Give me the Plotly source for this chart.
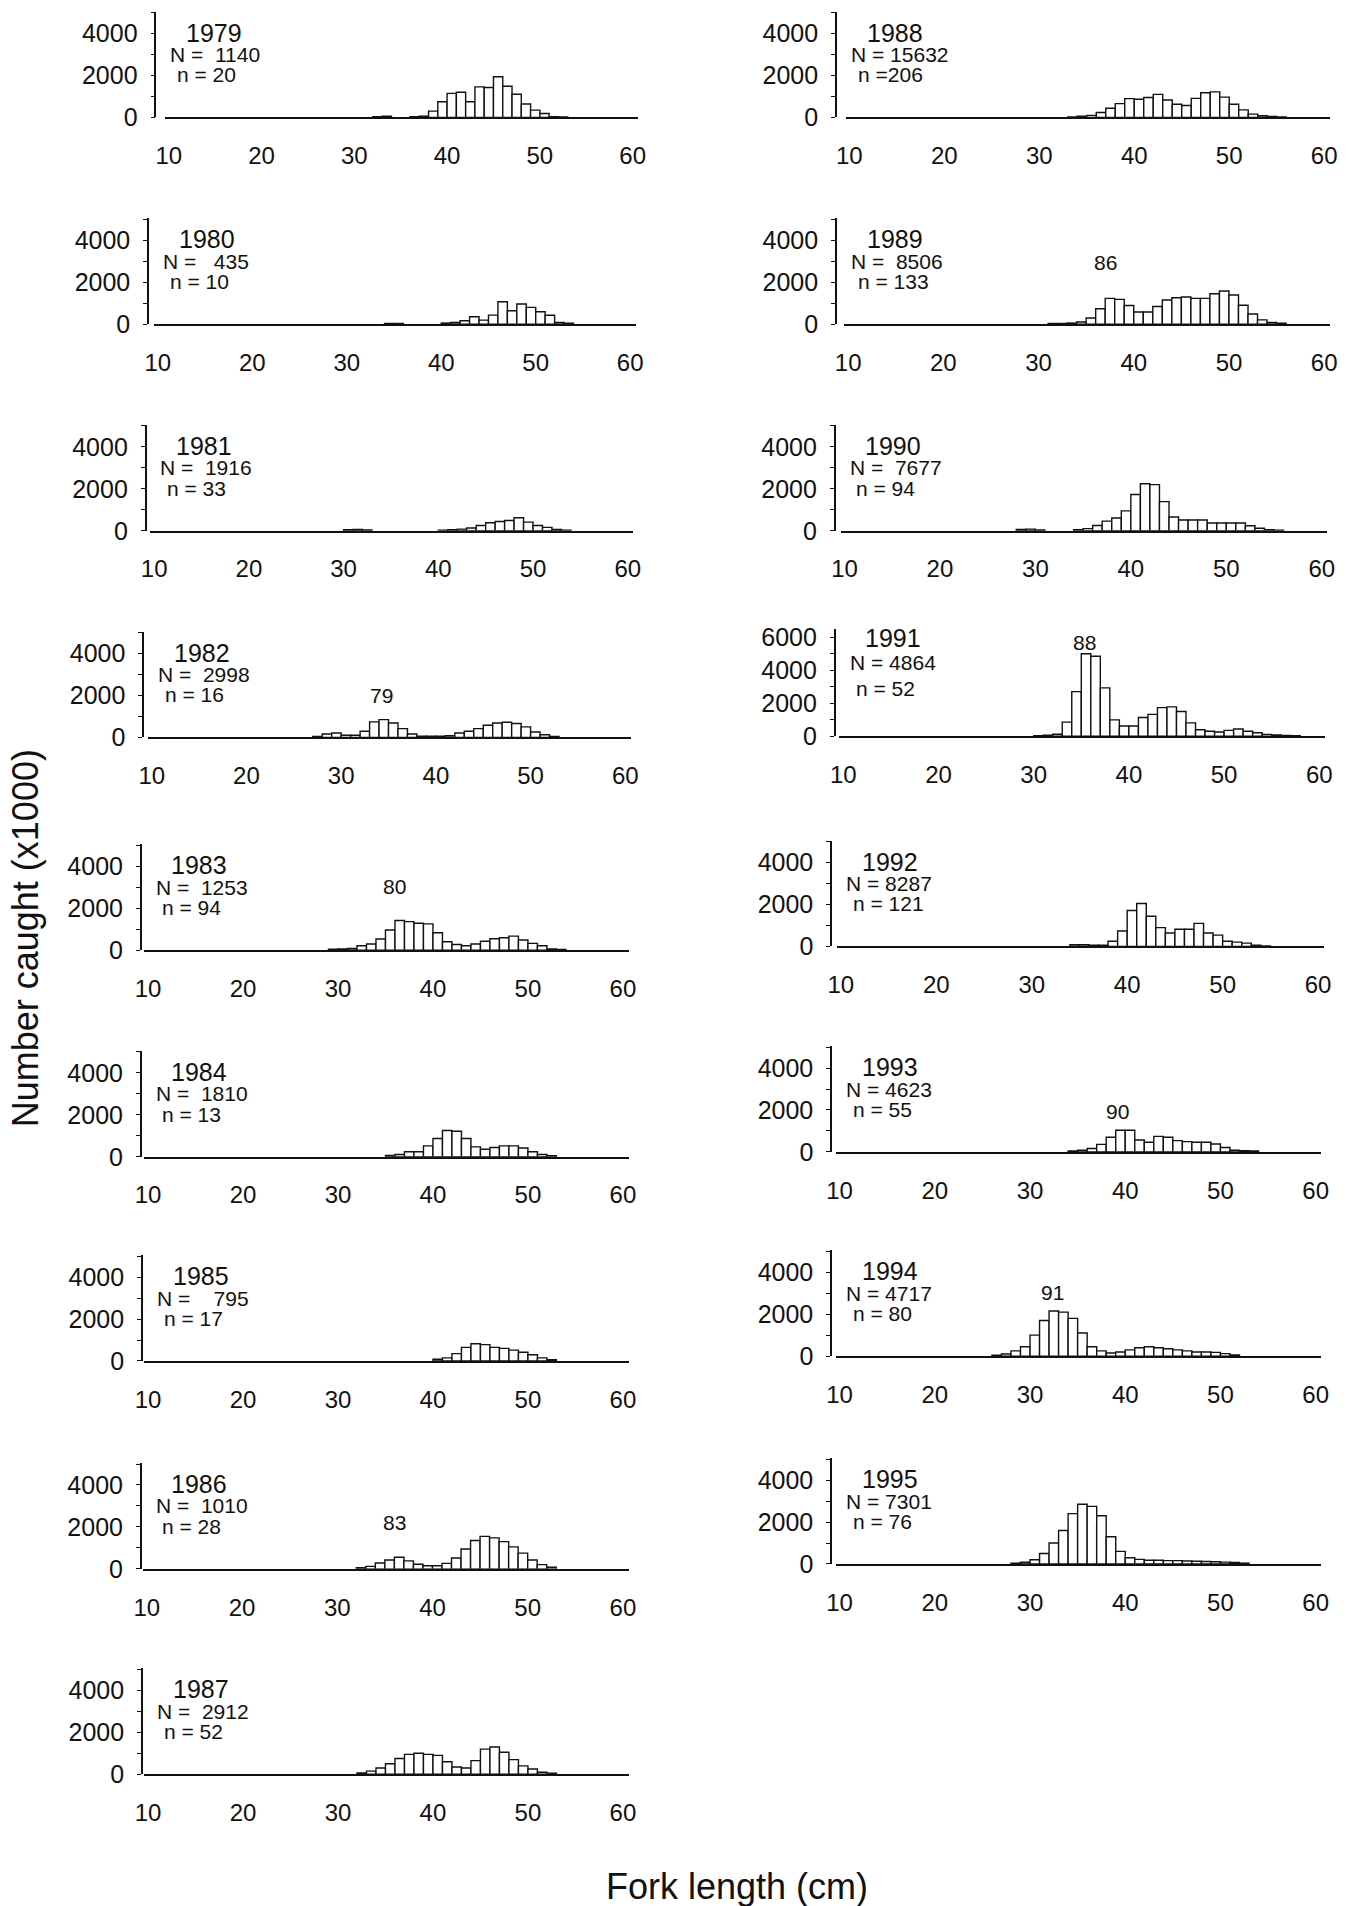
import plotly.graph_objects as go

# ---------------- data: fork-length bins (cm, lower edge) and number caught (x1000) ----------------
bins_1979 = [32, 33, 36, 37, 38, 39, 40, 41, 42, 43, 44, 45, 46, 47, 48, 49, 50, 51, 52]
catch_1979 = [40, 60, 40, 60, 300, 750, 1150, 1200, 750, 1460, 1430, 1940, 1490, 1110, 640, 350, 190, 40, 20]

bins_1980 = [34, 35, 40, 41, 42, 43, 44, 45, 46, 47, 48, 49, 50, 51, 52, 53]
catch_1980 = [30, 30, 50, 80, 160, 350, 190, 430, 1070, 640, 960, 800, 590, 420, 80, 40]

bins_1981 = [30, 31, 32, 40, 41, 42, 43, 44, 45, 46, 47, 48, 49, 50, 51, 52, 53]
catch_1981 = [50, 60, 40, 30, 50, 80, 130, 250, 380, 440, 490, 620, 410, 250, 160, 60, 30]

bins_1982 = [27, 28, 29, 30, 31, 32, 33, 34, 35, 36, 37, 38, 39, 40, 41, 42, 43, 44, 45, 46, 47, 48, 49, 50, 51, 52]
catch_1982 = [50, 160, 210, 100, 100, 290, 740, 850, 690, 420, 160, 60, 60, 60, 80, 210, 290, 420, 580, 690, 720, 660, 500, 260, 130, 50]

bins_1983 = [29, 30, 31, 32, 33, 34, 35, 36, 37, 38, 39, 40, 41, 42, 43, 44, 45, 46, 47, 48, 49, 50, 51, 52, 53]
catch_1983 = [40, 60, 80, 210, 290, 530, 960, 1410, 1360, 1280, 1250, 830, 400, 270, 210, 290, 420, 540, 590, 670, 480, 320, 210, 60, 30]

bins_1984 = [35, 36, 37, 38, 39, 40, 41, 42, 43, 44, 45, 46, 47, 48, 49, 50, 51, 52]
catch_1984 = [60, 110, 240, 240, 520, 870, 1250, 1220, 870, 470, 360, 440, 520, 520, 420, 240, 110, 50]

bins_1985 = [40, 41, 42, 43, 44, 45, 46, 47, 48, 49, 50, 51, 52]
catch_1985 = [80, 150, 350, 650, 820, 780, 650, 600, 520, 420, 300, 150, 60]

bins_1986 = [32, 33, 34, 35, 36, 37, 38, 39, 40, 41, 42, 43, 44, 45, 46, 47, 48, 49, 50, 51, 52]
catch_1986 = [50, 120, 280, 420, 550, 380, 220, 150, 150, 260, 520, 950, 1350, 1550, 1480, 1300, 1050, 750, 420, 200, 80]

bins_1987 = [32, 33, 34, 35, 36, 37, 38, 39, 40, 41, 42, 43, 44, 45, 46, 47, 48, 49, 50, 51, 52]
catch_1987 = [60, 150, 300, 500, 750, 950, 1000, 950, 900, 600, 350, 300, 650, 1200, 1300, 1050, 700, 400, 250, 100, 50]

bins_1988 = [33, 34, 35, 36, 37, 38, 39, 40, 41, 42, 43, 44, 45, 46, 47, 48, 49, 50, 51, 52, 53, 54, 55]
catch_1988 = [30, 60, 100, 240, 440, 660, 900, 870, 950, 1100, 830, 630, 570, 910, 1180, 1220, 970, 630, 360, 160, 80, 50, 30]

bins_1989 = [31, 32, 33, 34, 35, 36, 37, 38, 39, 40, 41, 42, 43, 44, 45, 46, 47, 48, 49, 50, 51, 52, 53, 54, 55]
catch_1989 = [30, 30, 50, 100, 290, 730, 1230, 1180, 890, 580, 580, 840, 1150, 1260, 1290, 1230, 1230, 1450, 1580, 1390, 900, 480, 200, 80, 40]

bins_1990 = [28, 29, 30, 34, 35, 36, 37, 38, 39, 40, 41, 42, 43, 44, 45, 46, 47, 48, 49, 50, 51, 52, 53, 54, 55]
catch_1990 = [60, 80, 40, 50, 100, 250, 460, 610, 950, 1730, 2240, 2200, 1390, 660, 510, 510, 510, 370, 370, 370, 370, 240, 120, 50, 30]

bins_1991 = [30, 31, 32, 33, 34, 35, 36, 37, 38, 39, 40, 41, 42, 43, 44, 45, 46, 47, 48, 49, 50, 51, 52, 53, 54, 55, 56, 57]
catch_1991 = [30, 60, 120, 850, 2700, 5000, 4850, 2930, 990, 620, 620, 1130, 1320, 1730, 1780, 1500, 810, 390, 300, 250, 350, 440, 300, 210, 110, 80, 50, 30]

bins_1992 = [34, 35, 36, 37, 38, 39, 40, 41, 42, 43, 44, 45, 46, 47, 48, 49, 50, 51, 52, 53, 54]
catch_1992 = [80, 80, 60, 60, 250, 740, 1720, 2050, 1440, 900, 640, 820, 820, 1100, 640, 540, 250, 210, 160, 60, 30]

bins_1993 = [34, 35, 36, 37, 38, 39, 40, 41, 42, 43, 44, 45, 46, 47, 48, 49, 50, 51, 52, 53]
catch_1993 = [40, 80, 160, 360, 700, 1030, 1030, 570, 460, 740, 700, 540, 490, 460, 460, 380, 210, 80, 60, 40]

bins_1994 = [26, 27, 28, 29, 30, 31, 32, 33, 34, 35, 36, 37, 38, 39, 40, 41, 42, 43, 44, 45, 46, 47, 48, 49, 50, 51]
catch_1994 = [40, 100, 250, 450, 1000, 1700, 2150, 2100, 1800, 1100, 450, 250, 150, 200, 300, 400, 450, 400, 350, 300, 250, 200, 200, 180, 120, 60]

bins_1995 = [28, 29, 30, 31, 32, 33, 34, 35, 36, 37, 38, 39, 40, 41, 42, 43, 44, 45, 46, 47, 48, 49, 50, 51, 52]
catch_1995 = [40, 80, 200, 500, 1000, 1600, 2400, 2850, 2750, 2300, 1300, 600, 300, 220, 180, 180, 160, 160, 140, 130, 120, 110, 90, 70, 40]

years = ["1979", "1980", "1981", "1982", "1983", "1984", "1985", "1986", "1987",
         "1988", "1989", "1990", "1991", "1992", "1993", "1994", "1995"]
N_labels = ["N =\u00a0 1140", "N =\u00a0\u00a0 435", "N =\u00a0 1916", "N =\u00a0 2998", "N =\u00a0 1253",
            "N =\u00a0 1810", "N =\u00a0\u00a0\u00a0 795", "N =\u00a0 1010", "N =\u00a0 2912",
            "N = 15632", "N =\u00a0 8506", "N =\u00a0 7677", "N = 4864", "N = 8287", "N = 4623",
            "N = 4717", "N = 7301"]
n_labels = ["n = 20", "n = 10", "n = 33", "n = 16", "n = 94", "n = 13", "n = 17", "n = 28", "n = 52",
            "n =206", "n = 133", "n = 94", "n = 52", "n = 121", "n = 55", "n = 80", "n = 76"]

cohort_years = ["1982", "1983", "1986", "1989", "1991", "1993", "1994"]
cohort_labels = ["79", "80", "83", "86", "88", "90", "91"]
cohort_x = [34.3, 36.0, 36.0, 37.0, 35.3, 39.2, 32.4]
cohort_y = [2000, 3050, 2200, 2950, 5700, 1950, 3050]

x_ticks = [10, 20, 30, 40, 50, 60]

data_bins = [bins_1979, bins_1980, bins_1981, bins_1982, bins_1983, bins_1984, bins_1985, bins_1986, bins_1987,
             bins_1988, bins_1989, bins_1990, bins_1991, bins_1992, bins_1993, bins_1994, bins_1995]
data_catch = [catch_1979, catch_1980, catch_1981, catch_1982, catch_1983, catch_1984, catch_1985, catch_1986,
              catch_1987, catch_1988, catch_1989, catch_1990, catch_1991, catch_1992, catch_1993, catch_1994,
              catch_1995]

# ---------------- layout geometry ----------------
W, H = 1352, 1906
S = 1.2158
FONT = "Liberation Sans, Arial, Helvetica, sans-serif"
INK = "#111111"


def rx(p):
    # horizontal position read on the reduced reference -> page pixel
    return (p - 8.6) / 0.9853 * S


def ry(p):
    # vertical position read on the reduced reference -> page pixel
    return (p - 5.3) / 0.9897 * S


# per-panel positions read on the reference: y-axis line, tick "10", tick "60", baseline
axis_r = [128, 122, 120, 118, 116, 116, 117, 116, 117, 687, 687, 686, 686, 683, 683, 683, 683]
x10_r = [139, 130, 127, 125, 122, 122, 122, 121, 122, 698, 697, 694, 693, 691, 690, 690, 690]
x60_r = [520, 518, 516, 514, 512, 512, 512, 512, 512, 1088, 1088, 1086, 1084, 1083, 1081, 1081, 1081]
base_r = [97, 267, 437, 607, 782, 952, 1120, 1291, 1460, 97, 267, 437, 606, 779, 948, 1116, 1287]
X0, X1 = 9.6, 60.6
PX_PER_4000 = 69.7 * S
PX_PER_6000_BIG = 100.0

fig = go.Figure()
layout = dict(
    width=W, height=H, margin=dict(l=0, r=0, t=0, b=0),
    paper_bgcolor="white", plot_bgcolor="white", showlegend=False,
    font=dict(family=FONT, color=INK),
)
annotations = []

for i, yr in enumerate(years):
    k = i + 1
    xs = "x" if k == 1 else f"x{k}"
    ys = "y" if k == 1 else f"y{k}"
    x10 = rx(x10_r[i])
    x60 = rx(x60_r[i])
    axis_px = rx(axis_r[i])
    scale = (x60 - x10) / 50.0
    dx0 = (x10 + (X0 - 10) * scale) / W
    dx1 = (x10 + (X1 - 10) * scale) / W
    big = (yr == "1991")
    ymax = 6500 if big else 5050
    hpx = ymax / 6000 * PX_PER_6000_BIG if big else ymax / 4000 * PX_PER_4000
    b = ry(base_r[i])
    dy0 = 1 - b / H
    dy1 = 1 - (b - hpx) / H

    bx = [v + 0.5 for v in data_bins[i]]
    fig.add_trace(go.Bar(
        x=bx, y=data_catch[i], width=1.0, xaxis=xs, yaxis=ys,
        marker=dict(color="white", line=dict(color=INK, width=1.4)),
        hoverinfo="x+y",
    ))

    if big:
        tv = [0, 1000, 2000, 3000, 4000, 5000, 6000]
        tt = ["0", "", "2000", "", "4000", "", "6000"]
    else:
        tv = [0, 1000, 2000, 3000, 4000, 5000]
        tt = ["0", "", "2000", "", "4000", ""]

    layout["xaxis" if k == 1 else f"xaxis{k}"] = dict(
        domain=[dx0, dx1], range=[X0, X1], anchor=ys,
        showline=True, linecolor=INK, linewidth=1.8,
        showgrid=False, zeroline=False,
        tickvals=x_ticks, ticks="",
        ticklabelstandoff=16,
        tickfont=dict(size=24, family=FONT, color=INK),
    )
    layout["yaxis" if k == 1 else f"yaxis{k}"] = dict(
        domain=[dy0, dy1], range=[0, ymax], anchor="free", position=axis_px / W,
        showline=True, linecolor=INK, linewidth=1.6,
        showgrid=False, zeroline=False,
        tickvals=tv, ticktext=tt, ticks="outside", ticklen=4, tickcolor=INK,
        ticklabelstandoff=8,
        tickfont=dict(size=25, family=FONT, color=INK),
    )

    # panel text
    yy = (5950, 4450, 2900) if big else (4050, 3000, 2030)
    annotations.append(dict(text=yr, xref="paper", yref=ys, x=(axis_px + 29) / W, y=yy[0],
                            xanchor="left", yanchor="middle", showarrow=False,
                            font=dict(size=25, family=FONT, color=INK)))
    annotations.append(dict(text=N_labels[i], xref="paper", yref=ys, x=(axis_px + 13) / W, y=yy[1],
                            xanchor="left", yanchor="middle", showarrow=False,
                            font=dict(size=21, family=FONT, color=INK)))
    annotations.append(dict(text=n_labels[i], xref="paper", yref=ys, x=(axis_px + 20) / W, y=yy[2],
                            xanchor="left", yanchor="middle", showarrow=False,
                            font=dict(size=21, family=FONT, color=INK)))

for j, cy in enumerate(cohort_years):
    k = years.index(cy) + 1
    annotations.append(dict(text=cohort_labels[j], xref=f"x{k}", yref=f"y{k}",
                            x=cohort_x[j], y=cohort_y[j], xanchor="center", yanchor="middle",
                            showarrow=False, font=dict(size=21, family=FONT, color=INK)))

annotations.append(dict(text="Number caught (x1000)", xref="paper", yref="paper",
                        x=rx(22) / W, y=1 - ry(772) / H, textangle=-90, showarrow=False,
                        xanchor="center", yanchor="middle",
                        font=dict(size=36, family=FONT, color=INK)))
annotations.append(dict(text="Fork length (cm)", xref="paper", yref="paper",
                        x=rx(606) / W, y=1 - ry(1552) / H, showarrow=False,
                        xanchor="center", yanchor="middle",
                        font=dict(size=36, family=FONT, color=INK)))

layout["annotations"] = annotations
fig.update_layout(**layout)
fig.write_html("out.html")
